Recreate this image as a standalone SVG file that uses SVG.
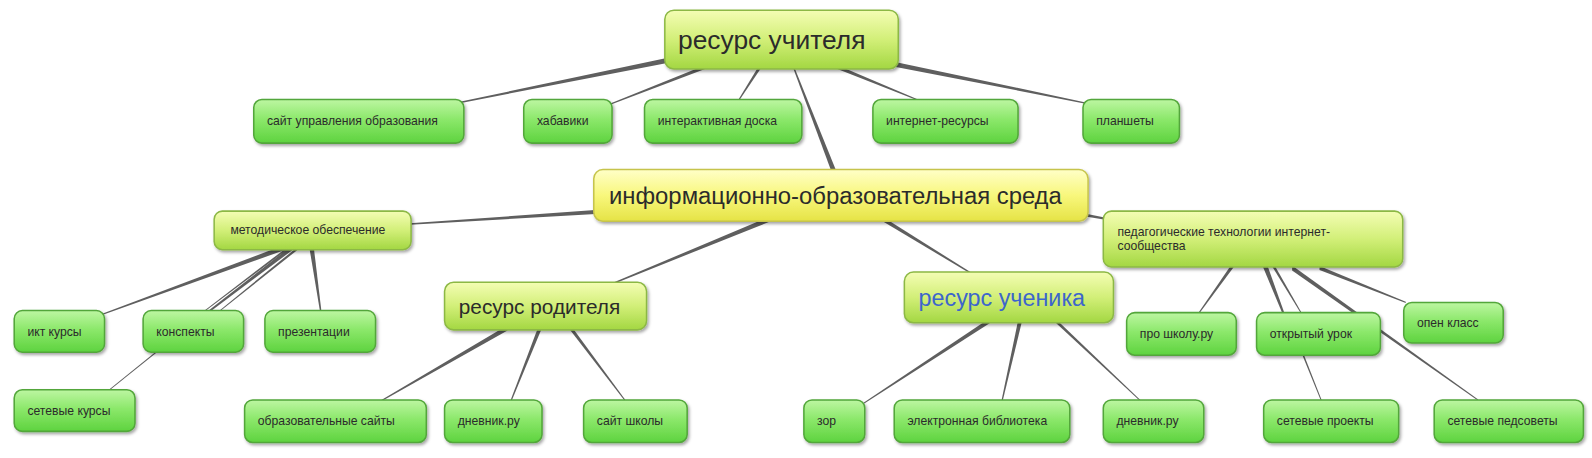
<svg xmlns="http://www.w3.org/2000/svg" width="1592" height="458" viewBox="0 0 1592 458">
<defs>
<linearGradient id="gLeaf" x1="0" y1="0" x2="0" y2="1">
<stop offset="0" stop-color="#bdf6a2"/><stop offset="0.45" stop-color="#8ce86b"/><stop offset="1" stop-color="#5ed33f"/>
</linearGradient>
<linearGradient id="gHead" x1="0" y1="0" x2="0" y2="1">
<stop offset="0" stop-color="#f4fdb4"/><stop offset="0.5" stop-color="#d2ef78"/><stop offset="1" stop-color="#a3d742"/>
</linearGradient>
<linearGradient id="gCenter" x1="0" y1="0" x2="0" y2="1">
<stop offset="0" stop-color="#ffffc8"/><stop offset="0.5" stop-color="#f8f77c"/><stop offset="1" stop-color="#e5e346"/>
</linearGradient>
<filter id="sh" x="-10%" y="-20%" width="120%" height="150%">
<feDropShadow dx="1.5" dy="2" stdDeviation="1.5" flood-color="#000" flood-opacity="0.35"/>
</filter>
</defs>
<style>
.leaf{fill:url(#gLeaf);stroke:#52a63a;stroke-width:1.5;filter:url(#sh)}
.head{fill:url(#gHead);stroke:#8cb845;stroke-width:1.5;filter:url(#sh)}
.center{fill:url(#gCenter);stroke:#c6c44c;stroke-width:1.5;filter:url(#sh)}
text{font-family:"Liberation Sans",Arial,sans-serif;fill:#2b2b2b}
.s{font-size:12px}
.conn polygon{fill:#5f5f5f}
</style>
<rect width="1592" height="458" fill="#ffffff"/>
<g transform="scale(1.015)">
<g id="connectors" class="conn">
<polygon points="665,55.5 453,100.3 453,101.7 665,60.5"/>
<polygon points="705,60 600,102.4 600,103.6 705,64"/>
<polygon points="748.2,64 726.4,100 727.6,100 751.8,64"/>
<polygon points="819.5,170 780.3,64 781.7,64 824.5,170"/>
<polygon points="820,62 908,99.4 908,100.6 820,66"/>
<polygon points="875,59.5 1072,101.4 1072,102.6 875,64.5"/>
<polygon points="600,206 400,220.3 400,221.7 600,210"/>
<polygon points="758,213.5 602,279.3 602,280.7 758,218.5"/>
<polygon points="870,213.7 958,269.3 958,270.7 870,218.3"/>
<polygon points="1065,209.5 1092,215 1092,217 1065,212.5"/>
<polygon points="280,241.5 100,309.4 100,310.6 280,246.5"/>
<polygon points="288,241.5 203,308 203,310 288,246.5"/>
<polygon points="294,242.5 213,308.5 213,309.5 294,245.5"/>
<polygon points="284,242.8 198,308.5 198,309.5 284,245.2"/>
<polygon points="304.8,244 315.3,307 316.7,307 309.2,244"/>
<polygon points="155,345.2 103,387.5 103,388.5 155,346.8"/>
<polygon points="500,320.5 372,396.4 372,397.6 500,325.5"/>
<polygon points="530,323 502.4,396 503.6,396 534,323"/>
<polygon points="560,323 616.4,396 617.6,396 564,323"/>
<polygon points="975,313.5 850,397.4 850,398.6 975,318.5"/>
<polygon points="1003,316 986.4,396 987.6,396 1007,316"/>
<polygon points="1038,316 1126.4,398 1127.6,398 1042,316"/>
<polygon points="1213,261 1179.4,310 1180.6,310 1217,261"/>
<polygon points="1243.5,261 1264,310 1266,310 1248.5,261"/>
<polygon points="1252.5,261 1282.5,310 1283.5,310 1255.5,261"/>
<polygon points="1273,261.5 1456,393.4 1456,394.6 1273,266.5"/>
<polygon points="1300,262 1385,297.4 1385,298.6 1300,266"/>
<polygon points="1283.2,350 1301.5,395 1302.5,395 1284.8,350"/>
</g>

<g id="teacher"><rect class="head" x="655" y="10" width="230" height="58" rx="9"/><text x="668" y="48" font-size="26">ресурс учителя</text></g>
<g id="site_upr"><rect class="leaf" x="250" y="98" width="207" height="43" rx="8"/><text class="s" x="263" y="123">сайт управления образования</text></g>
<g id="habaviki"><rect class="leaf" x="516" y="98" width="87" height="43" rx="8"/><text class="s" x="529" y="123">хабавики</text></g>
<g id="interakt"><rect class="leaf" x="635" y="98" width="155" height="43" rx="8"/><text class="s" x="648" y="123">интерактивная доска</text></g>
<g id="internet"><rect class="leaf" x="860" y="98" width="143" height="43" rx="8"/><text class="s" x="873" y="123">интернет-ресурсы</text></g>
<g id="planshety"><rect class="leaf" x="1067" y="98" width="95" height="43" rx="8"/><text class="s" x="1080" y="123">планшеты</text></g>

<g id="center"><rect class="center" x="585" y="167" width="487" height="51" rx="9"/><text x="600" y="201" font-size="23.5">информационно-образовательная среда</text></g>
<g id="metod"><rect class="head" x="211" y="208" width="194" height="38" rx="8"/><text class="s" x="227" y="231">методическое обеспечение</text></g>
<g id="pedag"><rect class="head" x="1087" y="208" width="295" height="55" rx="8"/><text class="s" x="1101" y="233">педагогические технологии интернет-</text><text class="s" x="1101" y="246">сообщества</text></g>
<g id="parent"><rect class="head" x="438" y="278" width="199" height="47" rx="9"/><text x="452" y="309" font-size="20.5">ресурс родителя</text></g>
<g id="student"><rect class="head" x="891" y="268" width="206" height="50" rx="9"/><text x="905" y="301" font-size="23" style="fill:#3d66cc">ресурс ученика</text></g>

<g id="ikt"><rect class="leaf" x="14" y="306" width="89" height="41" rx="8"/><text class="s" x="27" y="331">икт курсы</text></g>
<g id="konspekty"><rect class="leaf" x="141" y="306" width="99" height="41" rx="8"/><text class="s" x="154" y="331">конспекты</text></g>
<g id="prezent"><rect class="leaf" x="261" y="306" width="109" height="41" rx="8"/><text class="s" x="274" y="331">презентации</text></g>
<g id="proschool"><rect class="leaf" x="1110" y="308" width="108" height="42" rx="8"/><text class="s" x="1123" y="333">про школу.ру</text></g>
<g id="otkryty"><rect class="leaf" x="1238" y="308" width="122" height="42" rx="8"/><text class="s" x="1251" y="333">открытый урок</text></g>
<g id="open"><rect class="leaf" x="1383" y="298" width="98" height="40" rx="8"/><text class="s" x="1396" y="322">опен класс</text></g>

<g id="set_kurs"><rect class="leaf" x="14" y="384" width="119" height="41" rx="8"/><text class="s" x="27" y="409">сетевые курсы</text></g>
<g id="obraz"><rect class="leaf" x="241" y="394" width="179" height="42" rx="8"/><text class="s" x="254" y="419">образовательные сайты</text></g>
<g id="dnevnik1"><rect class="leaf" x="438" y="394" width="96" height="42" rx="8"/><text class="s" x="451" y="419">дневник.ру</text></g>
<g id="site_school"><rect class="leaf" x="575" y="394" width="102" height="42" rx="8"/><text class="s" x="588" y="419">сайт школы</text></g>
<g id="zor"><rect class="leaf" x="792" y="394" width="60" height="42" rx="8"/><text class="s" x="805" y="419">зор</text></g>
<g id="elib"><rect class="leaf" x="881" y="394" width="173" height="42" rx="8"/><text class="s" x="894" y="419">электронная библиотека</text></g>
<g id="dnevnik2"><rect class="leaf" x="1087" y="394" width="99" height="42" rx="8"/><text class="s" x="1100" y="419">дневник.ру</text></g>
<g id="set_proekt"><rect class="leaf" x="1245" y="394" width="133" height="42" rx="8"/><text class="s" x="1258" y="419">сетевые проекты</text></g>
<g id="set_ped"><rect class="leaf" x="1413" y="394" width="147" height="42" rx="8"/><text class="s" x="1426" y="419">сетевые педсоветы</text></g>
</g>
</svg>
